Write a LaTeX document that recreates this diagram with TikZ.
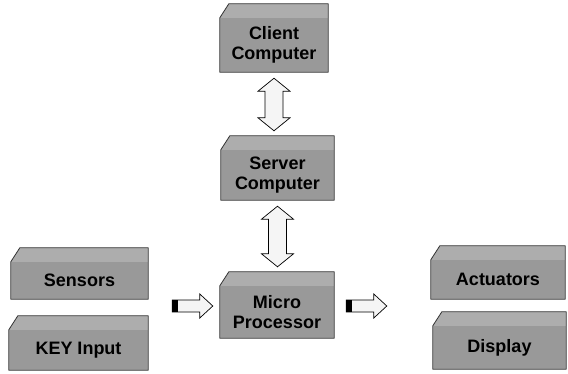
\documentclass[tikz,border=0pt]{standalone}
\usepackage{fontspec}
\setmainfont{Liberation Sans}
\usetikzlibrary{calc}
\definecolor{boxgray}{gray}{0.6}
\definecolor{boxtop}{gray}{0.68}
\definecolor{arrowfill}{gray}{0.96}
\newcommand\mkbox[5]{%
  \node[boxfront, minimum width=#3, minimum height=#4] (#1) at #2 {#5};
  \fill[boxtop] (#1.north west) -- ++(9,-14) -- ([yshift=14pt]#1.north east) -- (#1.north east) -- cycle;
  \draw[boxedge] (#1.south west) -- (#1.north west) -- ++(9,-14) -- ([yshift=14pt]#1.north east) -- (#1.south east) -- cycle;
}
\newcommand\vdarrow[2]{%
  \draw[blockarrow] let \p1=(#1.south), \p2=(#2.north) in
    (\x1,\y1-6pt) -- (\x1+16pt,\y1-19pt) -- (\x1+9pt,\y1-19pt) -- (\x1+9pt,\y2+32pt)
    -- (\x1+16pt,\y2+32pt) -- (\x1,\y2+19pt) -- (\x1-16pt,\y2+32pt) -- (\x1-9pt,\y2+32pt)
    -- (\x1-9pt,\y1-19pt) -- (\x1-16pt,\y1-19pt) -- cycle;
}
\begin{document}
\begin{tikzpicture}[x=1pt,y=-1pt,
  boxfront/.style={fill=boxgray, inner sep=0pt, align=center,
    font=\bfseries\fontsize{18}{20}\selectfont},
  boxtop/.style={fill=boxtop},
  boxedge/.style={draw=black!80, line width=0.8pt, line join=round},
  blockarrow/.style={draw=black, fill=arrowfill, line width=0.7pt, line join=miter},
  tailblock/.style={fill=black}]
\useasboundingbox (0,0) rectangle (568,373);
\fill[white] (0,0) rectangle (568,373);

\mkbox{client}{(274,45)}{108pt}{54pt}{Client\\Computer}
\mkbox{server}{(277.5,175)}{113pt}{50pt}{Server\\Computer}
\mkbox{micro}{(277,312)}{114pt}{52pt}{Micro\\Processor}
\mkbox{sensors}{(79.5,280.5)}{137pt}{37pt}{Sensors}
\mkbox{keyinput}{(78.5,350)}{139pt}{40pt}{KEY Input}
\mkbox{actuators}{(498,279.5)}{134pt}{39pt}{Actuators}
\mkbox{display}{(499.5,347.5)}{133pt}{43pt}{Display}

\vdarrow{client}{server}
\vdarrow{server}{micro}

\coordinate (inputs) at ($(sensors.east)!0.5!(keyinput.east)$);
\coordinate (outputs) at ($(actuators.west)!0.5!(display.west)$);

% inputs -> micro
\draw[blockarrow] let \p1=(inputs), \p2=(micro.west) in
  (\x1+24pt,\y2+12pt) -- (\x2-20pt,\y2+12pt) -- (\x2-20pt,\y2+18pt) -- (\x2-7pt,\y2+6pt)
  -- (\x2-20pt,\y2-6pt) -- (\x2-20pt,\y2) -- (\x1+24pt,\y2) -- cycle;
\fill[tailblock] let \p1=(inputs), \p2=(micro.west) in
  (\x1+24pt,\y2) rectangle (\x1+30pt,\y2+12pt);

% micro -> outputs
\draw[blockarrow] let \p1=(micro.east), \p2=(outputs) in
  (\x1+12pt,\y1+12pt) -- (\x2-58pt,\y1+12pt) -- (\x2-58pt,\y1+18pt) -- (\x2-45pt,\y1+6pt)
  -- (\x2-58pt,\y1-6pt) -- (\x2-58pt,\y1) -- (\x1+12pt,\y1) -- cycle;
\fill[tailblock] let \p1=(micro.east) in
  (\x1+12pt,\y1) rectangle (\x1+18pt,\y1+12pt);
\end{tikzpicture}
\end{document}
